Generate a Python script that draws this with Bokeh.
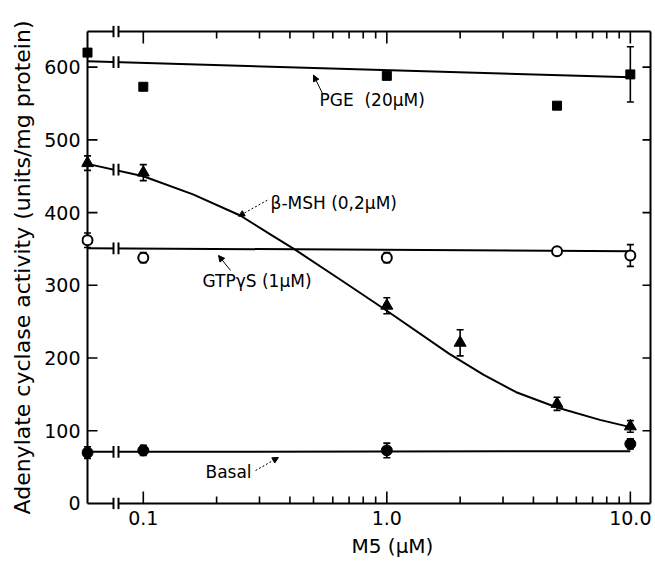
import numpy as np
from bokeh.plotting import figure
from bokeh.models import Range1d, FixedTicker, CustomJSTickFormatter, Arrow, NormalHead, Title
from bokeh.core.properties import value
from bokeh.embed import file_html
from bokeh.resources import INLINE

# ---------------- data ----------------
# concentration 0 = control (plotted on the left axis, before the axis break)
PGE_CONC = [0, 0.1, 1.0, 5.0, 10.0]
PGE_ACT = [620, 573, 588, 547, 590]
PGE_ERR = [0, 0, 0, 0, 38]
PGE_FIT_CONC = [0, 10.0]
PGE_FIT_ACT = [608, 586]

MSH_CONC = [0, 0.1, 1.0, 2.0, 5.0, 10.0]
MSH_ACT = [468, 455, 272, 221, 137, 106]
MSH_ERR = [10, 11, 11, 18, 9, 8]
MSH_FIT_CONC = [0, 0.1, 0.16, 0.25, 0.34, 0.42, 0.65, 1.0, 1.8, 2.5, 3.4, 5.0, 7.5, 10.0]
MSH_FIT_ACT = [467, 450, 425, 396, 368, 349, 307, 265, 206, 177, 153, 132, 115, 105]

GTP_CONC = [0, 0.1, 1.0, 5.0, 10.0]
GTP_ACT = [362, 338, 338, 347, 341]
GTP_ERR = [10, 7, 7, 4, 15]
GTP_FIT_CONC = [0, 10.0]
GTP_FIT_ACT = [351, 347]

BASAL_CONC = [0, 0.1, 1.0, 10.0]
BASAL_ACT = [70, 73, 73, 82]
BASAL_ERR = [8, 7, 10, 7]
BASAL_FIT_CONC = [0, 10.0]
BASAL_FIT_ACT = [71, 72]

X_TICKS = [0.1, 1.0, 10.0]
X_MINOR = [0.2, 0.3, 0.4, 0.5, 0.6, 0.7, 0.8, 0.9, 2, 3, 4, 5, 6, 7, 8, 9]
Y_TICKS = [0, 100, 200, 300, 400, 500, 600]

# ---------------- layout constants ----------------
FONT = "DejaVu Sans"
X_ZERO = 0.059      # where the control (0) is drawn = left axis
X_END = 12.1        # right axis
Y_TOP = 649         # top axis
PPD = 243.5         # pixels per decade
PPU = 0.7267        # pixels per activity unit


def xpos(conc):
    return [X_ZERO if c == 0 else c for c in conc]


def xoff(px):
    return X_ZERO * 10 ** (px / PPD)


BRK_L = xoff(26)
BRK_R = xoff(31)

p = figure(width=655, height=564, x_axis_type="log",
           x_range=Range1d(X_ZERO * 10 ** (-6 / PPD), X_END * 10 ** (4 / PPD)),
           y_range=Range1d(-6 / PPU, Y_TOP + 6 / PPU),
           output_backend="svg", toolbar_location=None, title=None,
           min_border_left=81, min_border_right=1, min_border_top=25, min_border_bottom=55)
p.grid.visible = False
p.outline_line_color = None

xa = p.xaxis[0]
xa.ticker = FixedTicker(ticks=X_TICKS, minor_ticks=[])
xa.formatter = CustomJSTickFormatter(code="return tick.toFixed(1);")
ya = p.yaxis[0]
ya.ticker = FixedTicker(ticks=Y_TICKS, minor_ticks=[])
for ax in (xa, ya):
    ax.axis_line_color = None
    ax.major_tick_line_color = None
    ax.minor_tick_line_color = None
    ax.major_tick_in = 0
    ax.major_tick_out = 0
    ax.minor_tick_in = 0
    ax.minor_tick_out = 0
    ax.major_label_standoff = 1
    ax.major_label_text_font = FONT
    ax.major_label_text_font_size = "19px"
    ax.major_label_text_color = "black"
ya.axis_label = "Adenylate cyclase activity (units/mg protein)"
ya.axis_label_text_font = FONT
ya.axis_label_text_font_size = "22px"
ya.axis_label_text_font_style = "normal"
ya.axis_label_text_color = "black"
ya.axis_label_standoff = 6

p.add_layout(Title(text="M5 (μM)", align="left", offset=270, standoff=9,
                   text_font=FONT, text_font_size="20px", text_font_style="normal",
                   text_color="black"), "below")

LW = 2
# frame
p.segment(x0=[X_ZERO, X_END, X_ZERO, X_ZERO], y0=[0, 0, 0, Y_TOP],
          x1=[X_ZERO, X_END, X_END, X_END], y1=[Y_TOP, Y_TOP, 0, Y_TOP],
          line_width=LW, color="black")
# inward ticks
p.ray(x=[X_ZERO] * 6, y=Y_TICKS[1:], length=10, angle=0, length_units="screen", line_width=1.6, color="black")
p.ray(x=[X_END] * 6, y=Y_TICKS[1:], length=8, angle=np.pi, length_units="screen", line_width=1.6, color="black")
p.ray(x=X_TICKS, y=0, length=12, angle=np.pi / 2, length_units="screen", line_width=1.6, color="black")
p.ray(x=X_MINOR, y=0, length=7, angle=np.pi / 2, length_units="screen", line_width=1.6, color="black")
p.ray(x=X_TICKS, y=Y_TOP, length=12, angle=-np.pi / 2, length_units="screen", line_width=1.6, color="black")
p.ray(x=X_MINOR, y=Y_TOP, length=7, angle=-np.pi / 2, length_units="screen", line_width=1.6, color="black")

# fitted lines
fits = [(PGE_FIT_CONC, PGE_FIT_ACT), (MSH_FIT_CONC, MSH_FIT_ACT),
        (GTP_FIT_CONC, GTP_FIT_ACT), (BASAL_FIT_CONC, BASAL_FIT_ACT)]
for fc, fa in fits:
    p.line(xpos(fc), fa, line_width=LW, color="black", line_join="round")

# axis break
p.quad(left=[BRK_L], right=[BRK_R], bottom=[-20], top=[Y_TOP + 20], fill_color="white", line_color=None)
brk_y = [0, Y_TOP]
for fc, fa in fits:
    brk_y.append(float(np.interp(np.log10(BRK_L), np.log10(xpos(fc)), fa)))
for bx in (BRK_L, BRK_R):
    p.segment(x0=[bx] * len(brk_y), y0=[y - 8 for y in brk_y],
              x1=[bx] * len(brk_y), y1=[y + 8 for y in brk_y], line_width=LW, color="black")


def errbars(conc, act, err):
    xs = [x for x, e in zip(xpos(conc), err) if e > 0]
    lo = [a - e for a, e in zip(act, err) if e > 0]
    hi = [a + e for a, e in zip(act, err) if e > 0]
    p.segment(x0=xs, y0=lo, x1=xs, y1=hi, line_width=1.6, color="black")
    p.scatter(xs, hi, marker="dash", size=7, line_width=1.6, color="black")
    p.scatter(xs, lo, marker="dash", size=7, line_width=1.6, color="black")


errbars(PGE_CONC, PGE_ACT, PGE_ERR)
errbars(MSH_CONC, MSH_ACT, MSH_ERR)
errbars(GTP_CONC, GTP_ACT, GTP_ERR)
errbars(BASAL_CONC, BASAL_ACT, BASAL_ERR)

p.scatter(xpos(PGE_CONC), PGE_ACT, marker="square", size=9, color="black")
p.scatter(xpos(MSH_CONC), MSH_ACT, marker="triangle", size=12, color="black")
p.scatter(xpos(GTP_CONC), GTP_ACT, marker="circle", size=10, fill_color="white", line_color="black", line_width=2)
p.scatter(xpos(BASAL_CONC), BASAL_ACT, marker="circle", size=11, color="black")

# curve labels
p.text(x=[0.529, 0.333, 0.175, 0.18], y=[554.6, 412.8, 305.5, 42.7],
       text=["PGE\u00a0\u00a0(20μM)", "β-MSH (0,2μM)", "GTPγS (1μM)", "Basal"],
       text_font=value(FONT), text_font_size="17px", text_baseline="middle", text_align="left",
       text_color="black")
arrows = [
    (0.544, 564, 0.50, 589, "solid"),
    (0.323, 417, 0.246, 395, "2 2"),
    (0.228, 320.6, 0.2036, 341, "solid"),
    (0.289, 45.4, 0.359, 63.3, "2 2"),
]
for xs_, ys_, xe_, ye_, dash in arrows:
    p.add_layout(Arrow(x_start=xs_, y_start=ys_, x_end=xe_, y_end=ye_, line_width=1, line_dash=dash,
                       end=NormalHead(size=6, fill_color="black", line_color="black", line_width=1)))

open("out.html", "w").write(file_html(p, INLINE))
